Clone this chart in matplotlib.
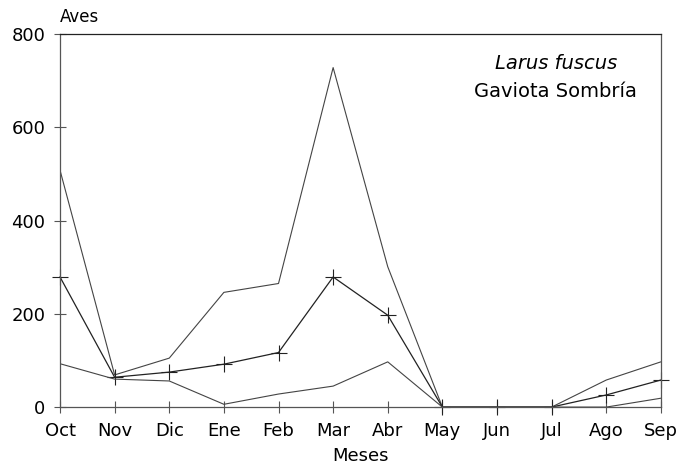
import matplotlib
matplotlib.use('Agg')
import matplotlib.pyplot as plt

# Datos
meses = ['Oct', 'Nov', 'Dic', 'Ene', 'Feb', 'Mar', 'Abr', 'May', 'Jun', 'Jul', 'Ago', 'Sep']
maximo = [508, 69, 105, 246, 265, 728, 301, 0, 0, 0, 58, 97]
media = [279, 64, 75, 92, 117, 279, 197, 0, 0, 0, 26, 58]
minimo = [93, 60, 56, 6, 28, 45, 97, 0, 0, 0, 0, 19]

plt.rcParams['font.family'] = ['DejaVu Sans']

fig = plt.figure(figsize=(6.82, 4.69), dpi=100)
ax = fig.add_axes([0.088, 0.132, 0.881, 0.7955])

x = list(range(len(meses)))
col = '#444444'
ax.plot(x, maximo, color=col, lw=0.8)
ax.plot(x, media, color='#222222', lw=0.9, marker='+', ms=11, mew=0.8, clip_on=False)
ax.plot(x, minimo, color=col, lw=0.8)

ax.set_xlim(0, 11)
ax.set_ylim(0, 800)
ax.set_xticks(x)
ax.set_xticklabels(meses)
ax.set_yticks([0, 200, 400, 600, 800])
ax.tick_params(axis='both', direction='inout', length=9, width=0.8, color='#555555',
               labelsize=13)
ax.tick_params(axis='x', pad=6)
ax.tick_params(axis='y', pad=6)
for s in ax.spines.values():
    s.set_color('#555555')
    s.set_linewidth(0.9)
ax.spines['top'].set_color('#222222')

ax.set_xlabel('Meses', fontsize=13, labelpad=5)
ax.text(0, 1.022, 'Aves', transform=ax.transAxes, fontsize=12, ha='left', va='bottom')
ax.text(0.825, 0.922, 'Larus fuscus', transform=ax.transAxes, fontsize=14,
        style='italic', ha='center', va='center')
ax.text(0.825, 0.847, 'Gaviota Sombría', transform=ax.transAxes, fontsize=14,
        ha='center', va='center')

fig.savefig('out.png', dpi=100)
